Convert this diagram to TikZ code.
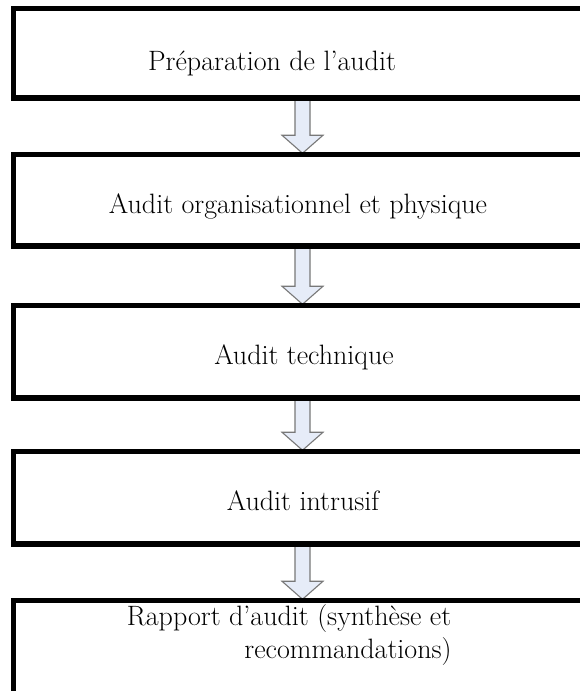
\documentclass[tikz,border=0pt]{standalone}
\usepackage{fontspec}
\usetikzlibrary{calc}
\definecolor{arrowfill}{RGB}{230,236,248}
\definecolor{arrowline}{RGB}{120,120,120}
\begin{document}
\begin{tikzpicture}[x=1pt,y=-1pt,
  stagebox/.style={draw=black,line width=3.5pt,rectangle,inner sep=0pt,minimum width=576pt},
  label/.style={anchor=base,inner sep=0pt,font=\fontsize{28}{34}\selectfont},
  blockarrow/.style={fill=arrowfill,draw=arrowline,line width=1.1pt,line join=miter}
]
\clip (0,0) rectangle (580,691);
\fill[white] (0,0) rectangle (580,691);
\node[stagebox,minimum height=88pt] (b1) at (302,53) {};
\node[stagebox,minimum height=90pt] (b2) at (302,200) {};
\node[stagebox,minimum height=91pt] (b3) at (302,351.5) {};
\node[stagebox,minimum height=91pt] (b4) at (302,497.5) {};
\node[stagebox,minimum height=180pt] (b5) at (302,691) {};
\coordinate (ax) at (302.5,0);
\foreach \a/\b in {b1/b2,b2/b3,b3/b4,b4/b5}{
  \path[blockarrow] let \p1=(\a.south -| ax), \p2=(\b.north -| ax) in
    (\x1-7.5pt,\y1) -- (\x1-7.5pt,\y2+18pt) -- (\x1-20.5pt,\y2+18pt) -- (\x1,\y2)
    -- (\x1+20.5pt,\y2+18pt) -- (\x1+7.5pt,\y2+18pt) -- (\x1+7.5pt,\y1) -- cycle;
}
\foreach \n in {b1,b2,b3,b4,b5}{
  \draw[line width=3.5pt] (\n.north west) rectangle (\n.south east);
}
\node[label] (t1) at (272,70) {Préparation de l’audit};
\node[label] (t2) at (298,213) {Audit organisationnel et physique};
\node[label] (t3) at (304,364) {Audit technique};
\node[label] (t4) at (303,510) {Audit intrusif};
\node[label] (t5a) at (289,625) {Rapport d’audit (synthèse et};
\node[label] (t5b) at (348,658) {recommandations)};
\end{tikzpicture}
\end{document}
